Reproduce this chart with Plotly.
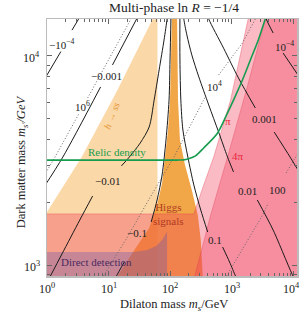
import math
import plotly.graph_objects as go

# ---------------- data (GeV) ----------------
x_tickvals = [1, 10, 100, 1000, 10000]
x_ticktext = ["10<sup>0</sup>", "10<sup>1</sup>", "10<sup>2</sup>", "10<sup>3</sup>", "10<sup>4</sup>"]
y_tickvals = [1000, 10000]
y_ticktext = ["10<sup>3</sup>", "10<sup>4</sup>"]
x_minor = [m * 10 ** e for e in range(0, 4) for m in range(2, 10)]
y_minor = [900] + [m * 1000 for m in range(2, 10)]

# h -> ss region
hss_x = [1, 1, 3.67, 14, 51.3, 56, 62.5, 62.5]
hss_y = [800, 1795, 3285, 6870, 14860, 16000, 16000, 800]
# Higgs signals funnel
higgs_x = [108, 104, 100, 92.9, 86, 74.3, 61.7, 45.8, 26.3, 14, 12.5,
           350, 340, 316, 283, 226, 175, 145, 135, 130]
higgs_y = [16000, 9570, 6150, 4425, 3550, 2466, 1936, 1503, 1180, 886, 800,
           800, 886, 1317, 1734, 2286, 3006, 3965, 6150, 16000]
# perturbativity pi
pi_x = [0.5, 244, 353, 513, 964, 1880, 1950, 20000, 20000, 0.5]
pi_y = [1755, 1755, 2415, 3285, 6150, 15030, 16000, 16000, 800, 800]
# perturbativity 4 pi
fourpi_x = [231, 253, 458, 861, 1746, 3535, 3750, 20000, 20000]
fourpi_y = [800, 886, 1734, 3285, 6870, 15030, 16000, 16000, 800]
# direct detection
dd_x = [0.5, 0.5, 26.3, 42.6, 59.5, 74.3, 83, 89.5, 89.5]
dd_y = [800, 1154, 1154, 1180, 1233, 1317, 1392, 1438, 800]
# relic density curve
relic_x = [0.5, 130, 165, 200, 260, 353, 594, 830, 1077, 1504, 2025, 2725, 3535]
relic_y = [3177, 3177, 3185, 3225, 3330, 3630, 4284, 5224, 6150, 7674, 9570, 11940, 15030]

# contour lines (None = gap for label)
neg4_x = [0.9, 1.68, None, 2.55, 3.5]
neg4_y = [7700, 10500, None, 13300, 15560]
neg3_x = [0.9, 1.81, 7.43, None, 11.6, 32]
neg3_y = [2370, 3285, 7110, None, 9060, 16000]
neg2_x = [1.1, 1.75, 3.41, 5.52, None, 16.2, 21.8, 32.8, 45.8, 55.2, 66.5, 80, 89.5, 91]
neg2_y = [870, 1129, 1641, 2139, None, 2978, 3285, 3836, 4575, 6150, 8570, 11940, 15030, 16000]
neg1_x = [13.0, 13.5, 18.1, None, 49.4, 61.7, 74.3, 86, 96.4, 100, 104]
neg1_y = [860, 886, 1034, None, 1607, 2047, 2698, 3965, 6150, 9570, 16000]
pos1_x = [145, 145, 150, 162, 195, 244, 316, 410, None, 716, 929, 1161, 1250]
pos1_y = [16000, 9570, 6150, 4425, 3285, 2415, 1833, 1438, None, 1219, 1034, 886, 850]
pos2_x = [168, 168, 188, 226, 294, 426, 617, 861, 1077, None, 2626, 4755, 10000, 11000]
pos2_y = [16000, 15030, 12600, 10120, 7940, 5830, 4325, 3285, 2788, None, 2047, 1469, 886, 850]
pos3_x = [400, 426, 743, 1297, 2438, None, 4940, 8950, 13460]
pos3_y = [16000, 15030, 10900, 7850, 5640, None, 4325, 3285, 2698]
pos4_x = [3500, 3670, 4755, None, 6902, 12970]
pos4_y = [16000, 15030, 12880, None, 10330, 7850]
dot6_x = [0.9, 1.35, 3.28, None, 4.58, 26]
dot6_y = [2680, 3285, 5272, None, 6295, 16000]
dot4_x = [8.3, 20.3, 45.8, 116, 381, None, 617, 1504, 2438, 2600]
dot4_y = [886, 1361, 2070, 3285, 6440, None, 8110, 11540, 15030, 16000]
dot2_x = [830, 3281, 3955, None, 7710, 11600, 13000]
dot2_y = [886, 1755, 1982, None, 2754, 3357, 3560]

# ---------------- figure ----------------
SERIF = "Liberation Serif"
fig = go.Figure()


def region(x, y, color, line=None):
    fig.add_trace(go.Scatter(x=x, y=y, mode="lines", fill="toself", fillcolor=color,
                             line=dict(width=0.8 if line else 0, color=line or color),
                             hoverinfo="skip", showlegend=False))


region(hss_x, hss_y, "#fbd8a8")
region(higgs_x, higgs_y, "rgba(238,150,40,0.85)")
region(pi_x, pi_y, "rgba(240,60,90,0.35)", "rgba(225,60,80,0.45)")
region(fourpi_x, fourpi_y, "rgba(240,60,90,0.35)", "rgba(225,60,80,0.45)")
region(dd_x, dd_y, "rgba(115,85,165,0.36)")


def curve(x, y, color="#1a1a1a", width=1.0, dash="solid", shape="spline"):
    fig.add_trace(go.Scatter(x=x, y=y, mode="lines", connectgaps=False,
                             line=dict(color=color, width=width, dash=dash, shape=shape,
                                       smoothing=0.8),
                             hoverinfo="skip", showlegend=False))


for xs, ys in [(neg4_x, neg4_y), (neg3_x, neg3_y), (neg2_x, neg2_y), (neg1_x, neg1_y),
               (pos1_x, pos1_y), (pos2_x, pos2_y), (pos3_x, pos3_y), (pos4_x, pos4_y)]:
    curve(xs, ys)
for xs, ys in [(dot6_x, dot6_y), (dot4_x, dot4_y), (dot2_x, dot2_y)]:
    curve(xs, ys, color="#666666", width=1.0, dash="1px,2px", shape="linear")
curve(relic_x, relic_y, color="#169c4e", width=1.6)

L, R, T, B = 47, 5, 19, 38
W, H = 304, 314
pw, ph = W - L - R, H - T - B


def P(px, py):
    return (px - L) / pw, (H - B - py) / ph


def label(px, py, text, color="#222222", size=11, angle=0, italic=False, xanchor="center"):
    x, y = P(px, py)
    if italic:
        text = "<i>" + text + "</i>"
    fig.add_annotation(x=x, y=y, xref="paper", yref="paper", text=text, showarrow=False,
                       xanchor=xanchor, yanchor="middle", textangle=angle,
                       font=dict(family=SERIF, size=size, color=color))


label(62, 44, "−10<sup>−4</sup>")
label(107, 76, "−0.001")
label(83, 106, "10<sup>6</sup>")
label(108, 181, "−0.01")
label(138, 233, "−0.1")
label(216, 86, "10<sup>4</sup>")
label(266, 119, "0.001")
label(286, 46, "10<sup>−4</sup>")
label(249, 191, "0.01")
label(279, 190, "100")
label(216, 240, "0.1")
label(229, 121, "π", color="#e8283c")
label(240, 156, "4π", color="#e8283c")
label(118, 152, "Relic density", color="#169c4e")
label(112, 115, "h → ss", color="#e79a3a", size=10, angle=-69, italic=True)
label(169, 214, "Higgs<br>signals", color="#b03a22")
label(97, 262, "Direct detection", color="#4a2a60")

# tick labels
for v, t in zip(x_tickvals, x_ticktext):
    px = L + math.log10(v) * 62.0
    label(min(px, 293), 288, t, size=12)
for v, t in zip(y_tickvals, y_ticktext):
    py = 265 - (math.log10(v) - 3) * 209
    label(42, py + 1, t, size=12, xanchor="right")

# title and axis titles
label(175, 8, "Multi-phase ln <i>R</i> = −1/4", size=13.5)
label(175, 305, "Dilaton mass <i>m<sub>s</sub></i>/GeV", size=12.5)
x, y = P(12, 162)
fig.add_annotation(x=x, y=y, xref="paper", yref="paper", showarrow=False, textangle=-90,
                   text="Dark matter mass <i>m<sub>s′</sub>/GeV</i>",
                   font=dict(family=SERIF, size=12.5, color="#222222"))

axis_common = dict(type="log", showgrid=False, zeroline=False, showline=True,
                   linecolor="#bbbbbb", linewidth=1.5, mirror="ticks",
                   ticks="inside", ticklen=5, tickcolor="#666666", showticklabels=False)
fig.update_xaxes(range=[0, 4.0645], tickvals=x_tickvals,
                 minor=dict(tickvals=x_minor, ticks="inside", ticklen=3, tickcolor="#666666"),
                 **axis_common)
fig.update_yaxes(range=[2.9474, 4.177], tickvals=y_tickvals,
                 minor=dict(tickvals=y_minor, ticks="inside", ticklen=3, tickcolor="#666666"),
                 **axis_common)
fig.update_layout(width=W, height=H, margin=dict(l=L, r=R, t=T, b=B),
                  paper_bgcolor="white", plot_bgcolor="white", showlegend=False)
fig.write_html("out.html", config={"displayModeBar": False, "staticPlot": True},
               post_script="document.body.style.margin='0';")
